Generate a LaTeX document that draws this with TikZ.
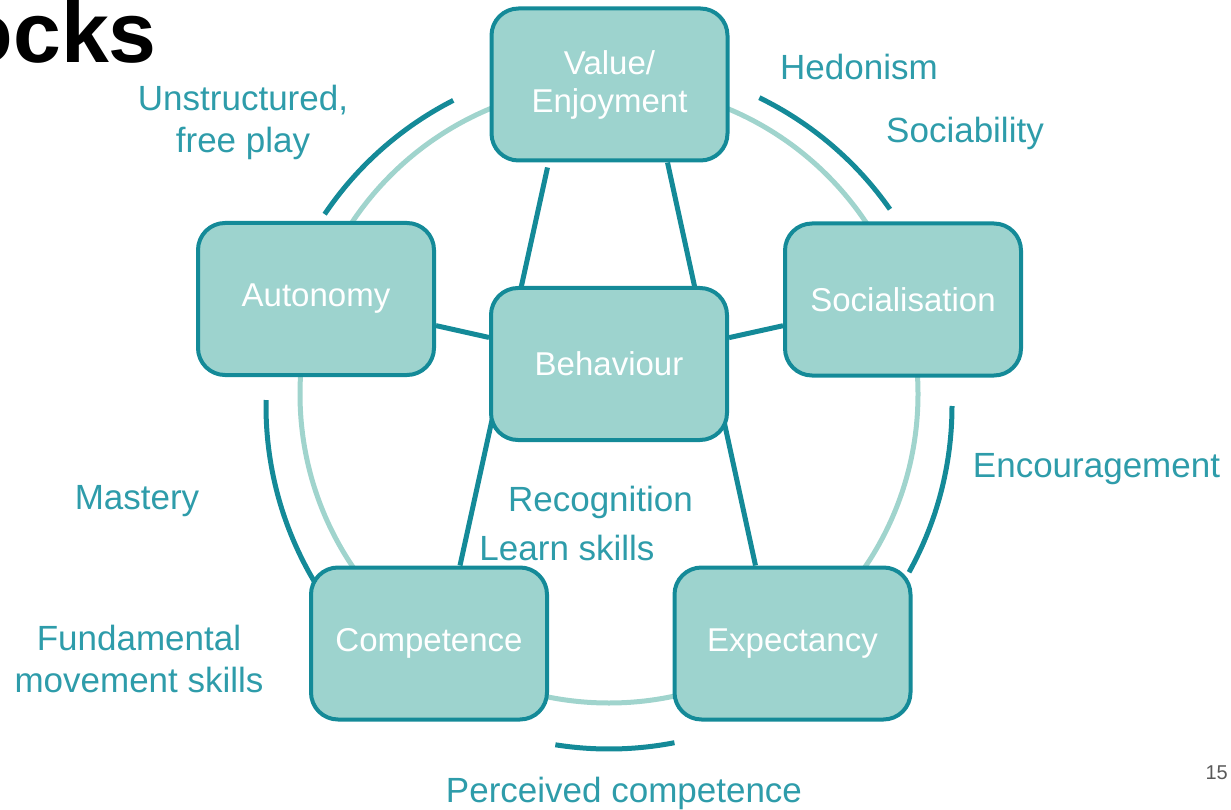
\documentclass[tikz,border=0pt]{standalone}
\usepackage{fontspec}
\setmainfont{Liberation Sans}
\usetikzlibrary{backgrounds}
\definecolor{tealdark}{RGB}{20,138,152}
\definecolor{tealfill}{RGB}{157,211,206}
\definecolor{teallight}{RGB}{160,212,205}
\definecolor{teallbl}{RGB}{46,156,170}

\begin{document}
\begin{tikzpicture}[x=1pt,y=1pt,
  box/.style={draw=tealdark,line width=4pt,fill=tealfill,rounded corners=27pt,
    minimum width=236pt,minimum height=152pt,text=white,align=center,
    inner sep=0pt,font=\fontsize{33}{38}\selectfont},
  lbl/.style={text=teallbl,align=center,inner sep=0pt,font=\fontsize{35}{42}\selectfont},
  link/.style={draw=tealdark,line width=5pt},
  outarc/.style={draw=tealdark,line width=5pt},
  ring/.style={draw=teallight,line width=5pt}]
%\draw[thin,gray,step=50] (0,0) grid (1231,-810);
\useasboundingbox (0,0) rectangle (1231,-810);

\node[box] (val) at (609.5,-84.5) {Value/\\Enjoyment};
\node[box] (aut) at (316,-299) {Autonomy};
\node[box] (soc) at (903,-299.5) {Socialisation};
\node[box] (beh) at (609,-364) {Behaviour};
\node[box] (com) at (429,-643.5) {Competence};
\node[box] (exp) at (792.5,-643.5) {Expectancy};

\begin{pgfonlayer}{background}
\draw[ring] (609,-394) circle (309);
\draw[link] (aut) -- (beh) -- (soc);
\draw[link] ([xshift=-62,yshift=-5]val.south) -- ([xshift=31]com.north);
\draw[link] ([xshift=58]val.south) -- ([xshift=-37]exp.north);
\end{pgfonlayer}
%
\coordinate (o) at (609,-406);
\draw[outarc] (o) ++(117:343) arc[start angle=117,end angle=146,radius=343];
\draw[outarc] (o) ++(35:343) arc[start angle=35,end angle=64,radius=343];
\draw[outarc] (o) ++(-29:343) arc[start angle=-29,end angle=0,radius=343];
\draw[outarc] (o) ++(179:343) arc[start angle=179,end angle=211,radius=343];
\draw[outarc] (o) ++(261:343) arc[start angle=261,end angle=281,radius=343];

\node[lbl] (unst) at (243,-122) {Unstructured,\\free play};
\node[lbl,anchor=base] (hed) at (859,-80) {Hedonism};
\node[lbl,anchor=base] (socb) at (965,-143) {Sociability};
\node[lbl,anchor=base] (enc) at (1096.5,-477) {Encouragement};
\node[lbl,anchor=base] (mas) at (137,-509) {Mastery};
\node[lbl] (fms) at (139,-659) {Fundamental\\movement skills};
\node[lbl,anchor=base] (rec) at (600.5,-511) {Recognition};
\node[lbl,anchor=base] (lrn) at (567,-560) {Learn skills};
\node[lbl,anchor=base] (perc) at (624,-802) {Perceived competence};

\node[anchor=base east,inner sep=0pt,font=\fontsize{86}{90}\selectfont\bfseries] (ttl) at (157,-63) {ocks};
\node[anchor=base east,inner sep=0pt,text=black!65,font=\fontsize{20}{24}\selectfont] (pg) at (1228,-779) {15};

\end{tikzpicture}
\end{document}
